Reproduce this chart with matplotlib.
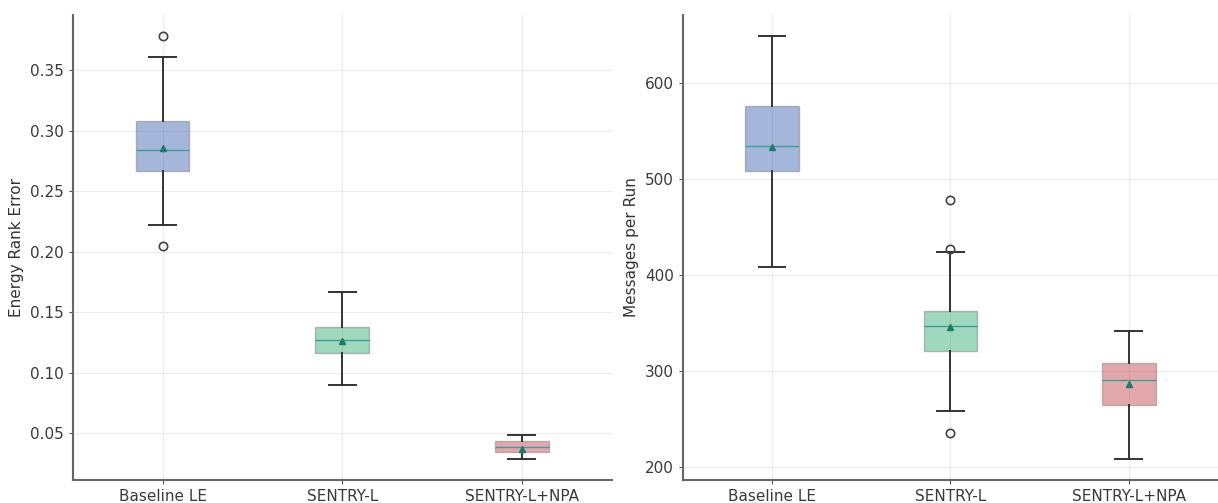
import matplotlib
matplotlib.use("Agg")
import matplotlib.pyplot as plt

labels = ["Baseline LE", "SENTRY-L", "SENTRY-L+NPA"]
colors = ["#4C6FB8", "#40B27A", "#C9525A"]

# energy rank error
err_whislo = [0.222, 0.090, 0.029]
err_q1 = [0.267, 0.116, 0.035]
err_med = [0.284, 0.127, 0.039]
err_q3 = [0.308, 0.138, 0.044]
err_whishi = [0.361, 0.167, 0.049]
err_mean = [0.286, 0.126, 0.0375]
err_fliers = [[0.378, 0.205], [], []]

# messages per run
msg_whislo = [408.5, 258.0, 208.0]
msg_q1 = [508.7, 320.7, 264.1]
msg_med = [534.8, 346.3, 290.3]
msg_q3 = [576.0, 362.4, 307.6]
msg_whishi = [649.2, 423.5, 341.6]
msg_mean = [533.0, 346.0, 285.7]
msg_fliers = [[], [478.6, 426.6, 235.0], []]


def make_stats(whislo, q1, med, q3, whishi, mean, fliers):
    stats = []
    for i in range(len(labels)):
        stats.append(dict(label=labels[i], whislo=whislo[i], q1=q1[i], med=med[i],
                          q3=q3[i], whishi=whishi[i], mean=mean[i], fliers=fliers[i]))
    return stats


def draw(ax, stats, ylabel):
    bp = ax.bxp(stats, widths=0.3, patch_artist=True, showmeans=True,
                boxprops=dict(edgecolor="#7f7f7f", linewidth=1.0),
                medianprops=dict(color="#3f9c96", linewidth=1.0),
                meanprops=dict(marker="^", markerfacecolor="#1f7a6a", markeredgecolor="#1f7a6a", markersize=5),
                whiskerprops=dict(color="#333333", linewidth=1.4),
                capprops=dict(color="#333333", linewidth=1.4),
                flierprops=dict(marker="o", markerfacecolor="none", markeredgecolor="#444444",
                                markersize=6, markeredgewidth=1.2))
    for patch, c in zip(bp["boxes"], colors):
        patch.set_facecolor(c)
        patch.set_alpha(0.5)
        patch.set_edgecolor("#7f7f7f")
    ax.set_ylabel(ylabel, fontsize=11, color="#333333")
    ax.grid(True, color="#ececec", linewidth=0.8)
    ax.set_axisbelow(True)
    for s in ["top", "right"]:
        ax.spines[s].set_visible(False)
    for s in ["left", "bottom"]:
        ax.spines[s].set_color("#666666")
        ax.spines[s].set_linewidth(1.5)
    ax.tick_params(colors="#555555", labelcolor="#3a3a3a", labelsize=11, length=3)
    ax.margins(y=0.05)


fig = plt.figure(figsize=(12.18, 5.03), dpi=100)
ax1 = fig.add_axes([0.0597, 0.0457, 0.4425, 0.9245])
ax2 = fig.add_axes([0.5605, 0.0457, 0.4395, 0.9245])

draw(ax1, make_stats(err_whislo, err_q1, err_med, err_q3, err_whishi, err_mean, err_fliers), "Energy Rank Error")
draw(ax2, make_stats(msg_whislo, msg_q1, msg_med, msg_q3, msg_whishi, msg_mean, msg_fliers), "Messages per Run")

fig.savefig("out.png", dpi=100)
